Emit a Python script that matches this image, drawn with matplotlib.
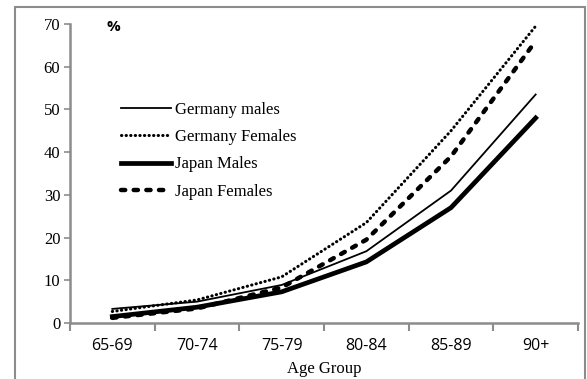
import matplotlib.pyplot as plt
import numpy as np
from matplotlib.patches import Rectangle

age_groups = ['65-69', '70-74', '75-79', '80-84', '85-89', '90+']
germany_males = [3.3, 5.0, 8.9, 16.8, 31.0, 53.5]
germany_females = [2.7, 5.4, 10.8, 23.5, 45.0, 69.5]
japan_males = [1.5, 3.7, 7.3, 14.3, 27.0, 48.0]
japan_females = [1.2, 3.4, 8.3, 19.5, 39.0, 66.0]

serif = 'Liberation Serif'
sans = 'Open Sans'

fig = plt.figure(figsize=(5.87, 3.79), dpi=100)
# outer frame
fig.patches.append(Rectangle((15 / 587, -0.1), 570 / 587, 1.1 - 7 / 379,
                             transform=fig.transFigure, fill=False,
                             edgecolor='#8c8c8c', linewidth=1.5))

ax = fig.add_axes([70 / 587, 1 - 323 / 379, 508 / 587, 299 / 379])
x = np.arange(len(age_groups))

ax.plot(x, germany_males, color='black', lw=1.3, label='Germany males')
ax.plot(x, germany_females, color='black', lw=2.2, linestyle=(0, (0.1, 1.4)),
        dash_capstyle='round', label='Germany Females')
ax.plot(x, japan_males, color='black', lw=3.4, label='Japan Males')
ax.plot(x, japan_females, color='black', lw=3.2, linestyle=(0, (0.95, 1.9)),
        dash_capstyle='round', label='Japan Females')

ax.set_xlim(-0.5, len(age_groups) - 0.5)
ax.set_ylim(0, 70)
ax.set_yticks(range(0, 71, 10))
ax.set_yticklabels([str(v) for v in range(0, 71, 10)], fontfamily=serif,
                   fontsize=12)
ax.set_xticks(x)
ax.set_xticklabels(age_groups, fontfamily=sans, fontsize=11.5)
ax.set_xticks(np.arange(-0.5, len(age_groups)), minor=True)
ax.tick_params(axis='x', which='major', length=0, pad=11)
ax.tick_params(axis='x', which='minor', length=6, width=1.5, color='#8c8c8c')
ax.tick_params(axis='y', length=4, width=1.2, color='#8c8c8c', pad=3)

for side in ['top', 'right']:
    ax.spines[side].set_visible(False)
for side in ['left', 'bottom']:
    ax.spines[side].set_color('#8c8c8c')
    ax.spines[side].set_linewidth(1.8)

ax.set_xlabel('Age Group', fontfamily=serif, fontsize=12, labelpad=5)
ax.text(113 / 587, 1 - 27 / 379, '%', transform=fig.transFigure,
        fontfamily=sans, fontsize=11, fontweight='bold', va='center',
        ha='center')

ax.legend(loc='upper left', bbox_to_anchor=(0.070, 0.79), frameon=False,
          prop={'family': serif, 'size': 12}, handlelength=3.0,
          labelspacing=0.68, handletextpad=0.25)

fig.savefig('out.png', dpi=100)
